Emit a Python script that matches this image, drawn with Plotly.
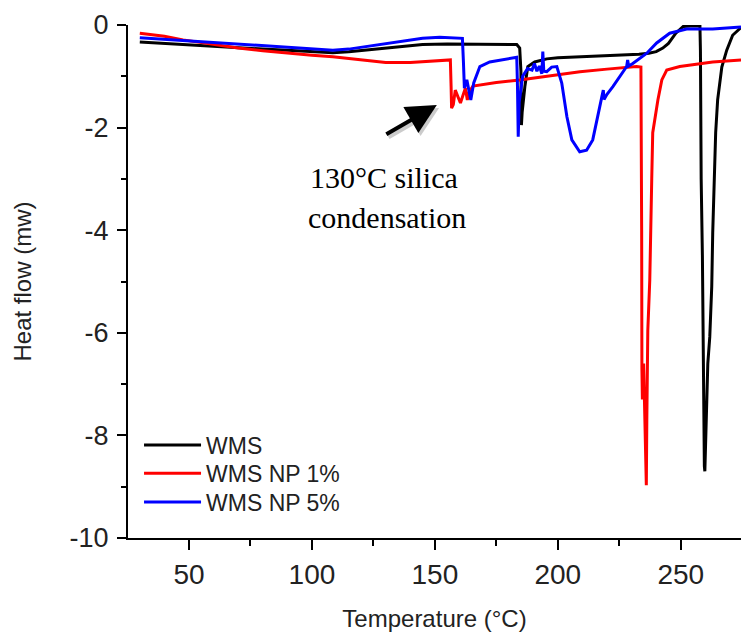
import plotly.graph_objects as go

# DSC heat-flow traces (temperature in °C, heat flow in mW)
wms_t = [30, 40, 50, 60, 70, 80, 90, 100, 108.5, 115, 125, 135, 145, 155, 165, 175, 183.3,
         184.5, 185.0, 185.2, 185.5, 186.6, 187.8, 190.6, 195.5, 200, 210, 220, 230, 233,
         237, 240, 242.7, 245, 248, 251, 254, 257.8, 258.0, 258.3, 258.8, 259.2, 259.6, 259.8,
         260.2, 261.0, 261.8, 262.6, 263.0, 263.6, 264.2, 265.0, 266.7, 268.7, 271.1, 274.5]
wms_v = [-0.33, -0.36, -0.39, -0.42, -0.45, -0.47, -0.49, -0.52, -0.54, -0.52, -0.47, -0.42,
         -0.38, -0.37, -0.37, -0.37, -0.38, -0.45, -0.9, -1.95, -1.7, -1.2, -0.81, -0.72, -0.66,
         -0.64, -0.62, -0.60, -0.58, -0.57, -0.55, -0.52, -0.45, -0.36, -0.16, -0.03, -0.02,
         -0.02, -0.5, -3.0, -4.5, -7.0, -8.6, -8.7, -7.9, -6.6, -6.08, -5.1, -4.05, -3.0, -2.1,
         -1.46, -0.82, -0.49, -0.2, -0.05]

np1_t = [30, 40, 47.6, 60, 70, 80, 90, 100, 108.5, 120, 130, 140, 148, 152, 156.3, 156.6,
         156.8, 157.5, 158.3, 160.4, 162.4, 163.2, 164.0, 165.5, 170, 175, 184.5, 195, 209,
         220, 232, 233.8, 234.0, 234.1, 234.2, 234.4, 234.9, 235.2, 235.6, 236.0, 236.2,
         236.4, 236.6, 237.4, 238.0, 238.2, 238.6, 240.7, 242.3, 244.3, 249.6, 263, 274.5]
np1_v = [-0.16, -0.22, -0.29, -0.38, -0.45, -0.50, -0.55, -0.59, -0.62, -0.68, -0.73, -0.73,
         -0.71, -0.69, -0.68, -1.2, -1.62, -1.55, -1.27, -1.52, -1.23, -1.46, -1.30, -1.19,
         -1.15, -1.12, -1.07, -1.00, -0.91, -0.86, -0.81, -0.82, -2.0, -4.0, -6.7, -7.3,
         -6.6, -7.3, -8.0, -8.97, -7.7, -6.4, -5.95, -4.97, -3.9, -3.0, -2.1, -1.46, -1.07,
         -0.88, -0.81, -0.72, -0.68]

np5_t = [30, 40, 50, 60, 70, 80, 90, 100, 108.5, 115, 125, 135, 145, 152, 161.2, 161.6, 162.0,
         163.0, 164.6, 165.8, 168.3, 172.3, 178, 183.3, 183.6, 183.9, 184.3, 185.7, 187.7,
         189.5, 190.5, 191.5, 192.5, 193.5, 193.9, 194.3, 195.5, 197.5, 199.6, 201.6, 203.7,
         205.7, 208.9, 211.7, 214.2, 216.3, 217.9, 218.5, 218.8, 220, 222.4, 228, 228.4,
         228.8, 230.5, 236.2, 240.2, 245.5, 252.4, 263, 274.5]
np5_v = [-0.25, -0.28, -0.31, -0.34, -0.37, -0.40, -0.43, -0.47, -0.49, -0.47, -0.40, -0.32,
         -0.26, -0.24, -0.26, -0.7, -1.23, -1.07, -1.46, -1.13, -0.81, -0.72, -0.67, -0.63,
         -1.2, -2.18, -1.5, -1.0, -0.85, -0.88, -0.75, -0.9, -0.8, -0.95, -0.52, -0.9, -0.91,
         -0.82, -0.81, -1.13, -1.79, -2.24, -2.47, -2.44, -2.24, -1.72, -1.40, -1.27, -1.45,
         -1.35, -1.20, -0.81, -0.68, -0.80, -0.75, -0.55, -0.35, -0.16, -0.08, -0.08, -0.04]

series_names = ["WMS", "WMS NP 1%", "WMS NP 5%"]
series_colors = ["#000000", "#ff0000", "#0000ff"]
series_t = [wms_t, np1_t, np5_t]
series_v = [wms_v, np1_v, np5_v]

x_ticks = [50, 100, 150, 200, 250]
y_ticks = [-10, -8, -6, -4, -2, 0]
y_tick_text = ["-10", "-8", "-6", "-4", "-2", "0"]

sans = "Liberation Sans, Arial, sans-serif"
serif = "Liberation Serif, Times New Roman, serif"

legend_ids = ["legend", "legend2", "legend3"]
legend_tops = [0.2232, 0.1680, 0.1120]

fig = go.Figure()
for name, t, v, color, lg in zip(series_names, series_t, series_v, series_colors, legend_ids):
    fig.add_trace(go.Scatter(x=t, y=v, mode="lines", name=name, legend=lg,
                             line=dict(color=color, width=3)))

axis_common = dict(showline=True, linecolor="black", linewidth=2, ticks="outside",
                   tickcolor="black", tickwidth=2, showgrid=False, zeroline=False,
                   mirror=False)

fig.update_xaxes(range=[25.2, 274.5], tickvals=x_ticks, ticklen=10,
                 minor=dict(dtick=25, tick0=0, ticks="outside", ticklen=6, tickwidth=2,
                            tickcolor="black", showgrid=False),
                 tickfont=dict(family=sans, size=28, color="#222"),
                 title=dict(text="Temperature (°C)", font=dict(family=sans, size=24, color="#222"),
                            standoff=25),
                 **axis_common)
fig.update_yaxes(range=[-10, 0], tickvals=y_ticks, ticktext=y_tick_text, ticklen=9,
                 minor=dict(dtick=1, tick0=0, ticks="outside", ticklen=5, tickwidth=2,
                            tickcolor="black", showgrid=False),
                 tickfont=dict(family=sans, size=27, color="#222"),
                 ticklabelstandoff=3,
                 title=dict(text="Heat flow (mw)", font=dict(family=sans, size=24, color="#222"),
                            standoff=31),
                 **axis_common)

# annotation arrow (soft shadow underneath) and two-line label
tip_x, tip_y = 150.8, -1.56
fig.add_annotation(x=tip_x + 0.9, y=tip_y - 0.06, ax=-52, ay=30, xref="x", yref="y",
                   showarrow=True, arrowhead=2, arrowsize=1.5, arrowwidth=4,
                   arrowcolor="rgba(0,0,0,0.2)", text="")
fig.add_annotation(x=tip_x, y=tip_y, ax=-52, ay=30, xref="x", yref="y",
                   showarrow=True, arrowhead=2, arrowsize=1.5, arrowwidth=4,
                   arrowcolor="black", text="")
fig.add_annotation(x=129.2, y=-2.98, xref="x", yref="y", showarrow=False,
                   text="130°C silica", font=dict(family=serif, size=30, color="black"))
fig.add_annotation(x=130.4, y=-3.76, xref="x", yref="y", showarrow=False,
                   text="condensation", font=dict(family=serif, size=30, color="black"))

legend_style = dict(xanchor="left", yanchor="top", bgcolor="rgba(0,0,0,0)", borderwidth=0,
                    itemwidth=57, font=dict(family=sans, size=23, color="#222"))
layout_legends = {lg: dict(x=0.018, y=top, **legend_style)
                  for lg, top in zip(legend_ids, legend_tops)}

fig.update_layout(
    width=741, height=632,
    margin=dict(l=128, r=0, t=25, b=94),
    paper_bgcolor="white", plot_bgcolor="white",
    showlegend=True,
    **layout_legends,
)

fig.write_html("out.html")
